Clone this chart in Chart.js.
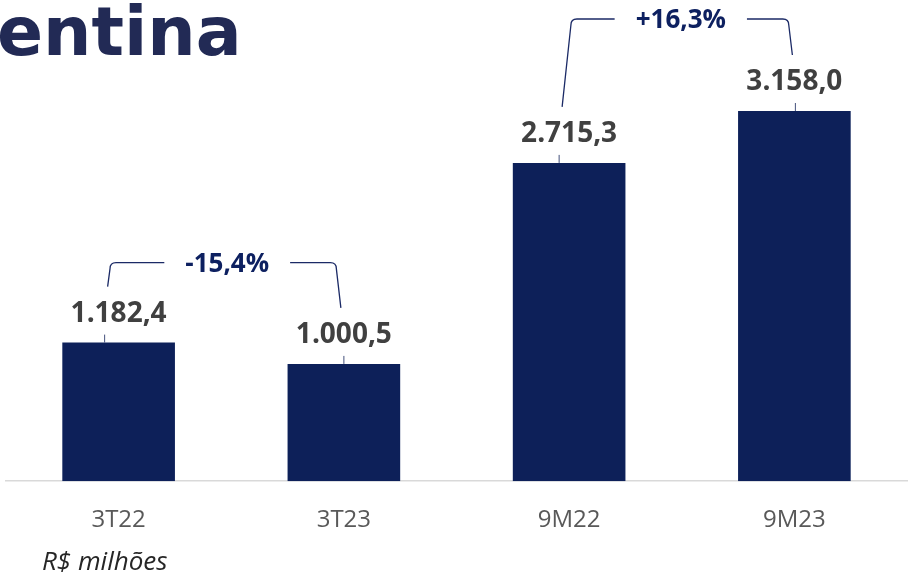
<!DOCTYPE html>
<html>
<head>
<meta charset="utf-8">
<script src="https://cdn.jsdelivr.net/npm/chart.js"></script>
<style>
  html, body { margin: 0; padding: 0; background: #fff; }
  #wrap { position: relative; width: 909px; height: 577px; overflow: hidden; }
  #canvas { position: absolute; left: 0; top: 0; }
  #title { position: absolute; left: -3px; top: -2px; font: bold 68px/68px "DejaVu Sans"; color: #222a55; white-space: nowrap; }
  #unit { position: absolute; left: 42px; top: 547px; font: italic 26px/26px "Open Sans"; color: #262626; white-space: nowrap; }
</style>
</head>
<body>
<div id="wrap">
  <canvas id="canvas" width="909" height="577"></canvas>
  <div id="title">entina</div>
  <div id="unit">R$ milhões</div>
</div>
<script>
var categories = ['3T22', '3T23', '9M22', '9M23']
var revenue = [1182.4, 1000.5, 2715.3, 3158.0]
var valueLabels = ['1.182,4', '1.000,5', '2.715,3', '3.158,0']
var changeFrom = [0, 2]
var changeTo = [1, 3]
var changeLabels = ['-15,4%', '+16,3%']

// drawing style only
var leaderShift = [-14, 0, -10, 1]
var bracketRise = [80, 92]

var annotate = {
  id: 'annotate',
  afterDatasetsDraw: function (chart) {
    var ctx = chart.ctx
    var meta = chart.getDatasetMeta(0)
    ctx.save()
    ctx.textAlign = 'center'
    ctx.textBaseline = 'alphabetic'

    meta.data.forEach(function (bar, i) {
      var lx = bar.x + leaderShift[i]
      ctx.strokeStyle = '#44507c'
      ctx.lineWidth = 1
      ctx.beginPath()
      ctx.moveTo(lx, bar.y)
      ctx.lineTo(lx, bar.y - 8)
      ctx.stroke()
      ctx.font = 'bold 28px "Open Sans"'
      ctx.fillStyle = '#404040'
      ctx.fillText(valueLabels[i], bar.x, bar.y - 21)
    })

    changeLabels.forEach(function (label, k) {
      var a = meta.data[changeFrom[k]]
      var b = meta.data[changeTo[k]]
      var xa = a.x + leaderShift[changeFrom[k]] + 3
      var ya = a.y - 56
      var xb = b.x + leaderShift[changeTo[k]] - 3
      var yb = b.y - 56
      var ly = Math.min(a.y, b.y) - bracketRise[k]
      var r = 6
      var sa = 0.1 * (ya - ly)
      var sb = 0.1 * (yb - ly)
      ctx.font = 'bold 26px "Open Sans"'
      var tw = ctx.measureText(label).width
      var tx = ((a.x + b.x) / 2 + (xa + sa + r + xb - sb - r) / 2) / 2
      var gap = tw / 2 + 21
      ctx.strokeStyle = '#1b2a66'
      ctx.lineWidth = 1.3
      ctx.beginPath()
      ctx.moveTo(xa, ya)
      ctx.lineTo(xa + sa, ly + r)
      ctx.quadraticCurveTo(xa + sa, ly, xa + sa + r, ly)
      ctx.lineTo(tx - gap, ly)
      ctx.moveTo(tx + gap, ly)
      ctx.lineTo(xb - sb - r, ly)
      ctx.quadraticCurveTo(xb - sb, ly, xb - sb, ly + r)
      ctx.lineTo(xb, yb)
      ctx.stroke()
      ctx.fillStyle = '#0d2060'
      ctx.fillText(label, tx, ly + 9)
    })
    ctx.restore()
  }
}

var context = document.getElementById('canvas').getContext('2d')
new Chart(context, {
  type: 'bar',
  data: {
    labels: categories,
    datasets: [{
      data: revenue,
      backgroundColor: '#0d2059',
      barPercentage: 0.5,
      categoryPercentage: 1
    }]
  },
  options: {
    responsive: false,
    animation: false,
    layout: { padding: { left: 6, right: 2, top: 0, bottom: 18 } },
    plugins: {
      legend: { display: false },
      tooltip: { enabled: false }
    },
    scales: {
      x: {
        grid: { display: false, drawTicks: false },
        border: { display: true, color: '#d9d9d9', width: 1.5 },
        ticks: { font: { family: 'Open Sans', size: 24 }, color: '#595959', padding: 24.5 }
      },
      y: { display: false, min: 0, max: 4105 }
    }
  },
  plugins: [annotate]
})
</script>
</body>
</html>
